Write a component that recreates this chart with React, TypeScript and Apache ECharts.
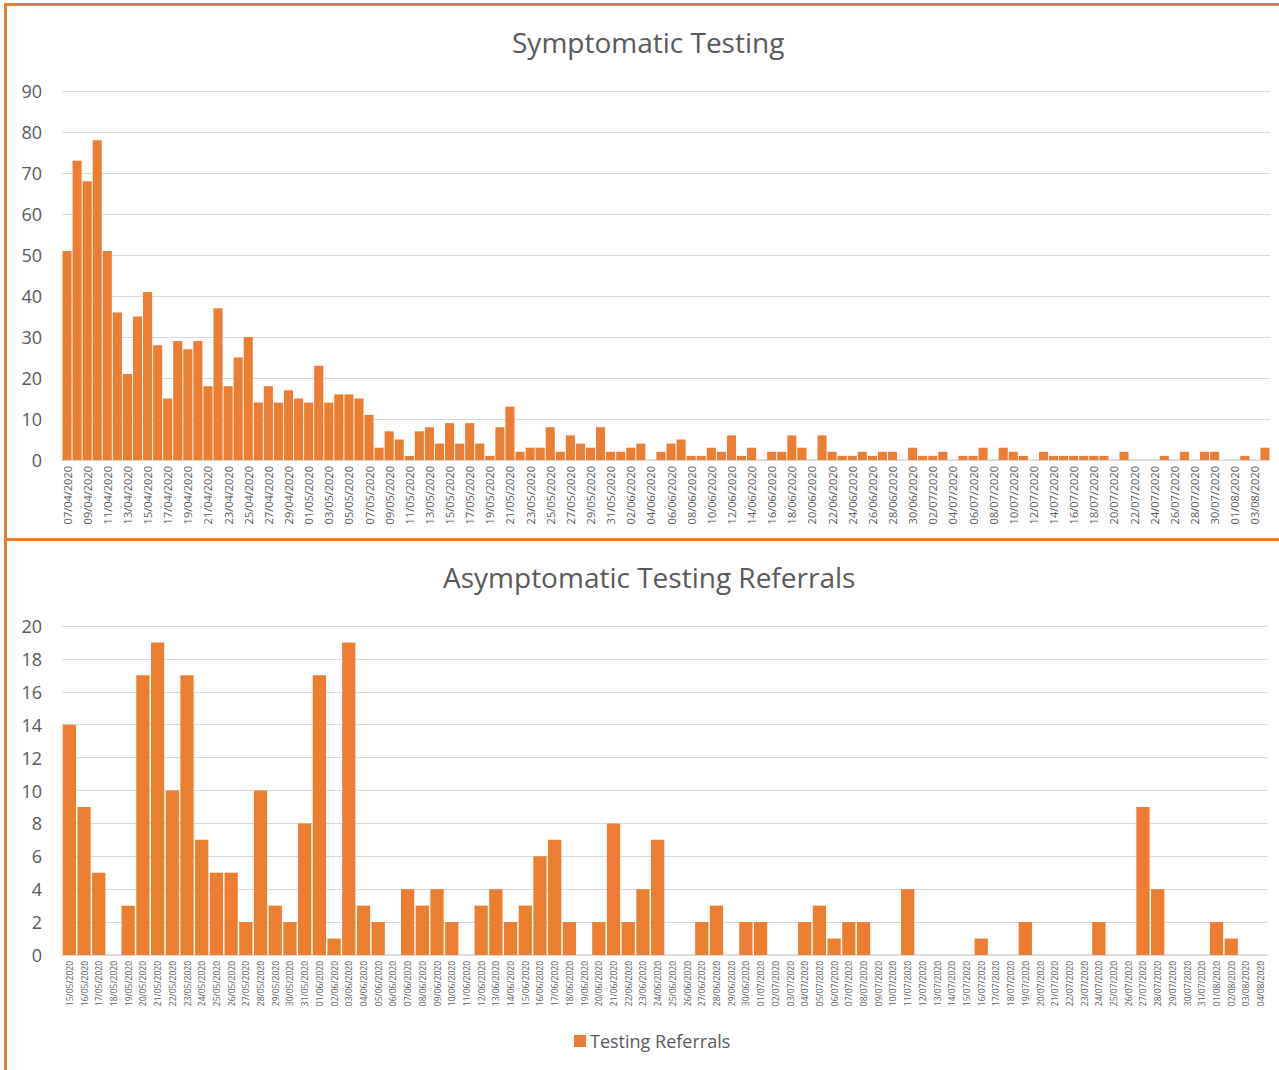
import React, { useEffect, useRef } from "react";
import * as echarts from "echarts";

const symptomaticDates = [
  "07/04/2020","08/04/2020","09/04/2020","10/04/2020","11/04/2020","12/04/2020","13/04/2020","14/04/2020","15/04/2020","16/04/2020",
  "17/04/2020","18/04/2020","19/04/2020","20/04/2020","21/04/2020","22/04/2020","23/04/2020","24/04/2020","25/04/2020","26/04/2020",
  "27/04/2020","28/04/2020","29/04/2020","30/04/2020",
  "01/05/2020","02/05/2020","03/05/2020","04/05/2020","05/05/2020","06/05/2020","07/05/2020","08/05/2020","09/05/2020","10/05/2020",
  "11/05/2020","12/05/2020","13/05/2020","14/05/2020","15/05/2020","16/05/2020","17/05/2020","18/05/2020","19/05/2020","20/05/2020",
  "21/05/2020","22/05/2020","23/05/2020","24/05/2020","25/05/2020","26/05/2020","27/05/2020","28/05/2020","29/05/2020","30/05/2020","31/05/2020",
  "01/06/2020","02/06/2020","03/06/2020","04/06/2020","05/06/2020","06/06/2020","07/06/2020","08/06/2020","09/06/2020","10/06/2020",
  "11/06/2020","12/06/2020","13/06/2020","14/06/2020","15/06/2020","16/06/2020","17/06/2020","18/06/2020","19/06/2020","20/06/2020",
  "21/06/2020","22/06/2020","23/06/2020","24/06/2020","25/06/2020","26/06/2020","27/06/2020","28/06/2020","29/06/2020","30/06/2020",
  "01/07/2020","02/07/2020","03/07/2020","04/07/2020","05/07/2020","06/07/2020","07/07/2020","08/07/2020","09/07/2020","10/07/2020",
  "11/07/2020","12/07/2020","13/07/2020","14/07/2020","15/07/2020","16/07/2020","17/07/2020","18/07/2020","19/07/2020","20/07/2020",
  "21/07/2020","22/07/2020","23/07/2020","24/07/2020","25/07/2020","26/07/2020","27/07/2020","28/07/2020","29/07/2020","30/07/2020","31/07/2020",
  "01/08/2020","02/08/2020","03/08/2020","04/08/2020",
];

const symptomaticValues = [
  51, 73, 68, 78, 51, 36, 21, 35, 41, 28,
  15, 29, 27, 29, 18, 37, 18, 25, 30, 14,
  18, 14, 17, 15, 14, 23, 14, 16, 16, 15,
  11, 3, 7, 5, 1, 7, 8, 4, 9, 4,
  9, 4, 1, 8, 13, 2, 3, 3, 8, 2,
  6, 4, 3, 8, 2, 2, 3, 4, 0, 2,
  4, 5, 1, 1, 3, 2, 6, 1, 3, 0,
  2, 2, 6, 3, 0, 6, 2, 1, 1, 2,
  1, 2, 2, 0, 3, 1, 1, 2, 0, 1,
  1, 3, 0, 3, 2, 1, 0, 2, 1, 1,
  1, 1, 1, 1, 0, 2, 0, 0, 0, 1,
  0, 2, 0, 2, 2, 0, 0, 1, 0, 3,
];

const referralDates = [
  "15/05/2020","16/05/2020","17/05/2020","18/05/2020","19/05/2020","20/05/2020","21/05/2020","22/05/2020","23/05/2020","24/05/2020",
  "25/05/2020","26/05/2020","27/05/2020","28/05/2020","29/05/2020","30/05/2020","31/05/2020",
  "01/06/2020","02/06/2020","03/06/2020","04/06/2020","05/06/2020","06/06/2020","07/06/2020","08/06/2020","09/06/2020","10/06/2020",
  "11/06/2020","12/06/2020","13/06/2020","14/06/2020","15/06/2020","16/06/2020","17/06/2020","18/06/2020","19/06/2020","20/06/2020",
  "21/06/2020","22/06/2020","23/06/2020","24/06/2020","25/06/2020","26/06/2020","27/06/2020","28/06/2020","29/06/2020","30/06/2020",
  "01/07/2020","02/07/2020","03/07/2020","04/07/2020","05/07/2020","06/07/2020","07/07/2020","08/07/2020","09/07/2020","10/07/2020",
  "11/07/2020","12/07/2020","13/07/2020","14/07/2020","15/07/2020","16/07/2020","17/07/2020","18/07/2020","19/07/2020","20/07/2020",
  "21/07/2020","22/07/2020","23/07/2020","24/07/2020","25/07/2020","26/07/2020","27/07/2020","28/07/2020","29/07/2020","30/07/2020","31/07/2020",
  "01/08/2020","02/08/2020","03/08/2020","04/08/2020",
];

const referralValues = [
  14, 9, 5, 0, 3, 17, 19, 10, 17, 7,
  5, 5, 2, 10, 3, 2, 8, 17, 1, 19,
  3, 2, 0, 4, 3, 4, 2, 0, 3, 4,
  2, 3, 6, 7, 2, 0, 2, 8, 2, 4,
  7, 0, 0, 2, 3, 0, 2, 2, 0, 0,
  2, 3, 1, 2, 2, 0, 0, 4, 0, 0,
  0, 0, 1, 0, 0, 2, 0, 0, 0, 0,
  2, 0, 0, 9, 4, 0, 0, 0, 2, 1,
  0, 0,
];

const topTitle = "Symptomatic Testing";
const bottomTitle = "Asymptomatic Testing Referrals";
const seriesName = "Testing Referrals";

const ORANGE = "#ED7D31";
const GRID = "#D9D9D9";
const TEXT = "#595959";
const FONT = "'Open Sans', sans-serif";

export default function App() {
  const ref = useRef<HTMLDivElement>(null);

  useEffect(() => {
    if (!ref.current) return;
    const chart = echarts.init(ref.current, null, { renderer: "svg" });
    chart.setOption({
      animation: false,
      backgroundColor: "#ffffff",
      textStyle: { fontFamily: FONT },
      title: [
        {
          text: topTitle,
          left: 512,
          top: 25,
          padding: 0,
          textStyle: { fontSize: 28, fontWeight: "normal", color: TEXT, fontFamily: FONT, lineHeight: 34 },
        },
        {
          text: bottomTitle,
          left: 443,
          top: 560,
          padding: 0,
          textStyle: { fontSize: 28, fontWeight: "normal", color: TEXT, fontFamily: FONT, lineHeight: 34 },
        },
      ],
      legend: {
        data: [seriesName],
        left: 574,
        top: 1032,
        padding: 0,
        itemWidth: 12,
        itemHeight: 12,
        icon: "rect",
        itemGap: 6,
        textStyle: { fontSize: 18, color: TEXT, fontFamily: FONT, padding: [0, 0, 0, -1] },
      },
      grid: [
        { left: 62, right: 9, top: 91, height: 369 },
        { left: 62, right: 11, top: 626, height: 329 },
      ],
      xAxis: [
        {
          type: "category",
          gridIndex: 0,
          data: symptomaticDates,
          axisTick: { show: false },
          axisLine: { lineStyle: { color: GRID, width: 1.5 } },
          axisLabel: { rotate: 90, interval: 1, fontSize: 11, color: TEXT, margin: 6, fontFamily: FONT },
        },
        {
          type: "category",
          gridIndex: 1,
          data: referralDates,
          axisTick: { show: false },
          axisLine: { lineStyle: { color: GRID, width: 1.5 } },
          axisLabel: { rotate: 90, interval: 0, fontSize: 8.5, color: TEXT, margin: 6, fontFamily: FONT },
        },
      ],
      yAxis: [
        {
          type: "value",
          gridIndex: 0,
          min: 0,
          max: 90,
          interval: 10,
          axisLine: { show: false },
          axisTick: { show: false },
          splitLine: { lineStyle: { color: GRID, width: 1 } },
          axisLabel: { fontSize: 18, color: TEXT, margin: 20, fontFamily: FONT },
        },
        {
          type: "value",
          gridIndex: 1,
          min: 0,
          max: 20,
          interval: 2,
          axisLine: { show: false },
          axisTick: { show: false },
          splitLine: { lineStyle: { color: GRID, width: 1 } },
          axisLabel: { fontSize: 18, color: TEXT, margin: 20, fontFamily: FONT },
        },
      ],
      series: [
        {
          name: "Symptomatic Testing",
          type: "bar",
          xAxisIndex: 0,
          yAxisIndex: 0,
          data: symptomaticValues,
          barCategoryGap: "10%",
          itemStyle: { color: ORANGE },
        },
        {
          name: seriesName,
          type: "bar",
          xAxisIndex: 1,
          yAxisIndex: 1,
          data: referralValues,
          barCategoryGap: "10%",
          itemStyle: { color: ORANGE },
        },
      ],
      graphic: [
        { type: "rect", shape: { x: 4, y: 3, width: 3, height: 1067 }, style: { fill: ORANGE } },
        { type: "rect", shape: { x: 4, y: 3, width: 1275, height: 3 }, style: { fill: ORANGE } },
        { type: "rect", shape: { x: 4, y: 538, width: 1275, height: 3 }, style: { fill: ORANGE } },
      ],
    });
    return () => chart.dispose();
  }, []);

  return (
    <div
      ref={ref}
      style={{ position: "absolute", left: 0, top: 0, width: 1279, height: 1070 }}
    />
  );
}
